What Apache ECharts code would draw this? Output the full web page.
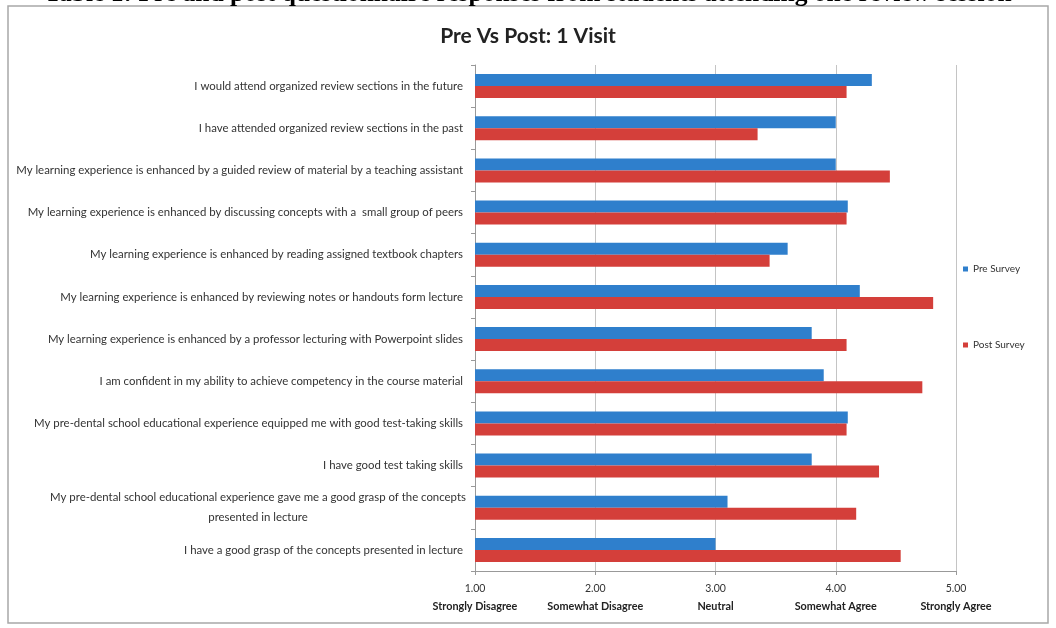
<!DOCTYPE html>
<html>
<head>
<meta charset="utf-8">
<script src="https://cdn.jsdelivr.net/npm/echarts@6/dist/echarts.min.js"></script>
<style>
html,body{margin:0;padding:0;background:#fff;}
#chart{width:1056px;height:628px;}
</style>
</head>
<body>
<div id="chart"></div>
<script>
const headerText = "Table 1: Pre and post questionnaire responses from students attending one review session";
const chartTitle = "Pre Vs Post: 1 Visit";
const categories = [
  "I would attend organized review sections in the future",
  "I have attended organized review sections in the past",
  "My learning experience is enhanced by a guided review of material by a teaching assistant",
  "My learning experience is enhanced by discussing concepts with a  small group of peers",
  "My learning experience is enhanced by reading assigned textbook chapters",
  "My learning experience is enhanced by reviewing notes or handouts form lecture",
  "My learning experience is enhanced by a professor lecturing with Powerpoint slides",
  "I am confident in my ability to achieve competency in the course material",
  "My pre-dental school educational experience equipped me with good test-taking skills",
  "I have good test taking skills",
  "My pre-dental school educational experience gave me a good grasp of the concepts\npresented in lecture",
  "I have a good grasp of the concepts presented in lecture"
];
const seriesNames = ["Pre Survey", "Post Survey"];
const preSurvey  = [4.30, 4.00, 4.00, 4.10, 3.60, 4.20, 3.80, 3.90, 4.10, 3.80, 3.10, 3.00];
const postSurvey = [4.09, 3.35, 4.45, 4.09, 3.45, 4.81, 4.09, 4.72, 4.09, 4.36, 4.17, 4.54];
const tickValues = [1, 2, 3, 4, 5];
const tickTexts = ["Strongly Disagree", "Somewhat Disagree", "Neutral", "Somewhat Agree", "Strongly Agree"];

const chart = echarts.init(document.getElementById('chart'));
const labelFont = "Lato, 'Liberation Sans', sans-serif";
chart.setOption({
  animation: false,
  backgroundColor: '#ffffff',
  title: {
    text: chartTitle,
    left: 'center',
    top: 21,
    textStyle: {fontFamily: labelFont, fontWeight: 'bold', fontSize: 21, color: '#222'}
  },
  graphic: [
    {type: 'rect', shape: {x: 8, y: 6, width: 1040, height: 617}, style: {fill: 'none', stroke: '#a8a8a8', lineWidth: 1.5}, z: 0},
    {type: 'text', left: 'center', top: -19, style: {text: headerText, font: "bold 25.5px 'Liberation Serif', serif", fill: '#000'}, z: 10}
  ],
  legend: {
    orient: 'vertical',
    left: 958,
    top: 259,
    itemGap: 66,
    itemWidth: 5,
    itemHeight: 5,
    icon: 'rect',
    textStyle: {fontFamily: labelFont, fontSize: 10, color: '#333'},
    data: seriesNames
  },
  grid: {left: 475, right: 100, top: 65, bottom: 57, containLabel: false},
  xAxis: {
    type: 'value',
    min: 1,
    max: 5,
    interval: 1,
    axisLine: {show: true, lineStyle: {color: '#999'}},
    axisTick: {show: true, length: 4, lineStyle: {color: '#999'}},
    splitLine: {show: true, lineStyle: {color: '#c4c4c4'}},
    axisLabel: {
      margin: 8,
      formatter: function (v) {
        const i = tickValues.indexOf(v);
        return '{a|' + v.toFixed(2) + '}\n{b|' + (i >= 0 ? tickTexts[i] : '') + '}';
      },
      rich: {
        a: {fontFamily: labelFont, fontSize: 10.5, color: '#333', lineHeight: 19},
        b: {fontFamily: labelFont, fontSize: 10.8, fontWeight: 'bold', color: '#222', lineHeight: 17}
      }
    }
  },
  yAxis: {
    type: 'category',
    inverse: true,
    data: categories,
    axisLine: {show: true, lineStyle: {color: '#999'}},
    axisTick: {show: true, length: 4, lineStyle: {color: '#999'}},
    axisLabel: {
      margin: 12,
      fontFamily: labelFont,
      fontSize: 11.4,
      color: '#333',
      formatter: function (v) {
        if (v.indexOf('\n') >= 0) {
          return v.split('\n').map(s => '{w|' + s + '}').join('\n');
        }
        return v;
      },
      rich: {
        w: {fontFamily: labelFont, fontSize: 11.4, color: '#333', width: 410, align: 'center', lineHeight: 20}
      }
    }
  },
  series: [
    {name: seriesNames[0], type: 'bar', data: preSurvey, barGap: '0%', barCategoryGap: '43%', itemStyle: {color: '#2f7fcc'}},
    {name: seriesNames[1], type: 'bar', data: postSurvey, itemStyle: {color: '#d43f3a'}}
  ]
});
</script>
</body>
</html>
